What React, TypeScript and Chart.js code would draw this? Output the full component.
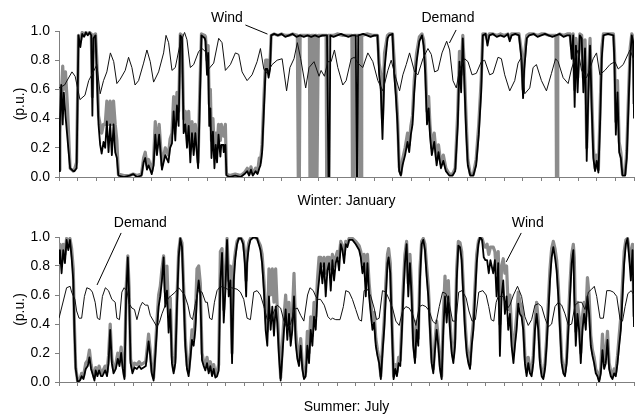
import React, { useEffect, useRef } from "react";
import { Chart, registerables } from "chart.js";

Chart.register(...registerables);

type Pair = [number, number];

const FONT_FAMILY = '"Liberation Sans", Arial, Helvetica, sans-serif';
const AXIS_COLOR = "#7f7f7f";
const GRAY = "#8c8c8c";

const dayCount = 31;
const yAxisLabel = "(p.u.)";
const winterTitle = "Winter: January";
const summerTitle = "Summer: July";

// ---------- Winter: January ----------
const janDemand: Pair[] = [
  [0, 0.61], [0.3, 0.63], [0.7, 0.72], [0.87, 0.69], [1.13, 0.53], [1.4, 0.56], [1.6, 0.66], [1.85, 0.72],
  [2.04, 0.77], [2.22, 0.57], [2.4, 0.66], [2.58, 0.72], [2.77, 0.85], [2.95, 0.79], [3.12, 0.64], [3.3, 0.67],
  [3.57, 0.73], [3.75, 0.82], [3.93, 0.75], [4.1, 0.63], [4.29, 0.66], [4.56, 0.78], [4.74, 0.87], [4.92, 0.79],
  [5.1, 0.65], [5.37, 0.72], [5.64, 0.85], [5.77, 0.97], [5.91, 0.92], [6.09, 0.73], [6.27, 0.75], [6.54, 0.92],
  [6.77, 0.99], [6.9, 0.94], [7.08, 0.75], [7.26, 0.77], [7.53, 0.86], [7.71, 0.88], [7.89, 0.86], [8.07, 0.74],
  [8.34, 0.78], [8.61, 0.95], [8.79, 0.92], [8.97, 0.73], [9.24, 0.77], [9.51, 0.85], [9.69, 0.84], [9.87, 0.72],
  [10.14, 0.66], [10.41, 0.7], [10.68, 0.79], [10.86, 0.88], [11.04, 0.74], [11.22, 0.71], [11.49, 0.77], [11.76, 0.8],
  [12.03, 0.81], [12.27, 0.59], [12.45, 0.75], [12.67, 0.81], [12.85, 0.92], [13.03, 0.81], [13.3, 0.61], [13.48, 0.75],
  [13.75, 0.79], [14.02, 0.69], [14.13, 0.73], [14.31, 0.69], [14.49, 0.79], [14.67, 0.79], [14.85, 0.87], [15.03, 0.75],
  [15.3, 0.63], [15.48, 0.66], [15.75, 0.81], [15.93, 0.82], [16.11, 0.78], [16.38, 0.75], [16.65, 0.85], [16.92, 0.79],
  [17.19, 0.66], [17.46, 0.59], [17.73, 0.73], [17.91, 0.8], [18.13, 0.69], [18.36, 0.59], [18.54, 0.7], [18.72, 0.77],
  [18.9, 0.85], [19.17, 0.72], [19.35, 0.7], [19.62, 0.81], [19.89, 0.88], [20.07, 0.84], [20.25, 0.72], [20.43, 0.73],
  [20.65, 0.85], [20.9, 0.93], [21.06, 0.87], [21.24, 0.66], [21.42, 0.61], [21.6, 0.74], [21.87, 0.81], [22.05, 0.79],
  [22.27, 0.7], [22.5, 0.71], [22.77, 0.79], [22.95, 0.8], [23.22, 0.7], [23.4, 0.71], [23.67, 0.82], [23.85, 0.81],
  [24.03, 0.7], [24.3, 0.59], [24.57, 0.66], [24.75, 0.78], [24.93, 0.82], [25.11, 0.57], [25.38, 0.61], [25.56, 0.75],
  [25.74, 0.77], [26.01, 0.66], [26.28, 0.59], [26.55, 0.71], [26.77, 0.81], [26.91, 0.79], [27.18, 0.68], [27.45, 0.64],
  [27.63, 0.74], [27.81, 0.81], [27.99, 0.87], [28.17, 0.73], [28.44, 0.68], [28.62, 0.74], [28.8, 0.81], [28.98, 0.85],
  [29.16, 0.7], [29.43, 0.73], [29.7, 0.77], [29.97, 0.79], [30.15, 0.74], [30.42, 0.77], [30.78, 0.87], [31, 0.8],
];

const janWindBlack: Pair[] = [
  [0, 0.04], [0.05, 0.38], [0.12, 0.63], [0.2, 0.36], [0.26, 0.58], [0.35, 0.42], [0.5, 0.2], [0.6, 0.06],
  [0.77, 0.04], [0.83, 0.04], [0.95, 0.06], [1.05, 0.97], [1.15, 0.89], [1.25, 0.98], [1.35, 0.96], [1.45, 0.99],
  [1.55, 0.97], [1.65, 0.99], [1.74, 0.97], [1.8, 0.42], [1.86, 0.95], [1.97, 0.97], [2.04, 0.7], [2.13, 0.36],
  [2.22, 0.22], [2.3, 0.16], [2.4, 0.24], [2.49, 0.2], [2.58, 0.38], [2.67, 0.17], [2.76, 0.36], [2.85, 0.15],
  [2.94, 0.36], [3.03, 0.17], [3.12, 0.13], [3.2, 0.01], [3.5, 0.0], [3.8, 0.01], [4.0, 0.02], [4.2, 0.0],
  [4.45, 0.01], [4.56, 0.1], [4.65, 0.13], [4.74, 0.05], [4.83, 0.08], [5.0, 0.02], [5.1, 0.08], [5.19, 0.29],
  [5.28, 0.15], [5.4, 0.29], [5.55, 0.05], [5.64, 0.1], [5.73, 0.15], [5.9, 0.1], [5.99, 0.2], [6.09, 0.23],
  [6.18, 0.45], [6.27, 0.25], [6.36, 0.49], [6.45, 0.35], [6.54, 0.97], [6.63, 0.95], [6.72, 0.3], [6.81, 0.36],
  [6.9, 0.2], [6.99, 0.35], [7.08, 0.1], [7.17, 0.3], [7.26, 0.15], [7.35, 0.3], [7.5, 0.06], [7.57, 0.4],
  [7.68, 0.97], [7.86, 0.95], [7.9, 0.93], [7.98, 0.7], [8.04, 0.85], [8.1, 0.35], [8.16, 0.47], [8.22, 0.13],
  [8.3, 0.31], [8.38, 0.06], [8.45, 0.22], [8.52, 0.1], [8.6, 0.29], [8.7, 0.14], [8.75, 0.22], [8.85, 0.22],
  [8.88, 0.17], [8.97, 0.22], [9.03, 0.01], [9.2, 0.0], [9.5, 0.01], [9.8, 0.0], [10.0, 0.02], [10.15, 0.04],
  [10.25, 0.01], [10.35, 0.05], [10.45, 0.01], [10.6, 0.04], [10.7, 0.02], [10.8, 0.06], [10.86, 0.08], [10.95, 0.17],
  [11.05, 0.47], [11.14, 0.74], [11.23, 0.74], [11.3, 0.68], [11.38, 0.74], [11.44, 0.97], [11.6, 0.98], [11.8, 0.97],
  [12.0, 0.98], [12.2, 0.96], [12.4, 0.97], [12.6, 0.98], [12.8, 0.96], [13.0, 0.97], [13.2, 0.96], [13.4, 0.97],
  [13.6, 0.96], [13.8, 0.97], [14.0, 0.96], [14.2, 0.97], [14.45, 0.97], [14.53, 0.0], [14.58, 0.0], [14.63, 0.97],
  [14.8, 0.96], [15.0, 0.97], [15.2, 0.98], [15.4, 0.97], [15.6, 0.96], [15.8, 0.97], [16.0, 0.97], [16.05, 0.0],
  [16.09, 0.0], [16.13, 0.97], [16.4, 0.98], [16.6, 0.97], [16.8, 0.96], [17.0, 0.97], [17.17, 0.97], [17.26, 0.7],
  [17.35, 0.6], [17.44, 0.26], [17.55, 0.74], [17.71, 0.95], [17.8, 0.97], [17.98, 0.98], [18.07, 0.7], [18.16, 0.56],
  [18.25, 0.36], [18.34, 0.04], [18.43, 0.01], [18.52, 0.08], [18.66, 0.15], [18.79, 0.24], [18.88, 0.17], [18.97, 0.29],
  [19.06, 0.36], [19.15, 0.58], [19.28, 0.79], [19.43, 0.93], [19.57, 0.97], [19.66, 0.9], [19.75, 0.7], [19.84, 0.36],
  [19.93, 0.47], [20.0, 0.29], [20.1, 0.15], [20.23, 0.24], [20.36, 0.08], [20.46, 0.17], [20.59, 0.06], [20.72, 0.11],
  [20.86, 0.04], [21.04, 0.01], [21.22, 0.01], [21.36, 0.04], [21.5, 0.36], [21.59, 0.79], [21.68, 0.58], [21.77, 0.95],
  [21.86, 0.63], [21.95, 0.31], [22.04, 0.08], [22.17, 0.01], [22.34, 0.01], [22.49, 0.08], [22.63, 0.29], [22.76, 0.58],
  [22.85, 0.97], [23.0, 0.98], [23.1, 0.9], [23.2, 0.97], [23.4, 0.98], [23.6, 0.96], [23.8, 0.97], [24.0, 0.96],
  [24.2, 0.98], [24.3, 0.93], [24.4, 0.97], [24.6, 0.98], [24.8, 0.97], [24.93, 0.81], [25.02, 0.54], [25.08, 0.74],
  [25.15, 0.84], [25.22, 0.95], [25.35, 0.97], [25.6, 0.98], [25.8, 0.96], [26.0, 0.97], [26.2, 0.98], [26.4, 0.97],
  [26.6, 0.96], [26.8, 0.97], [27.0, 0.98], [27.2, 0.96], [27.4, 0.97], [27.55, 0.97], [27.64, 0.81], [27.72, 0.97],
  [27.8, 0.48], [27.87, 0.9], [27.96, 0.58], [28.08, 0.97], [28.18, 0.95], [28.27, 0.58], [28.36, 0.88], [28.45, 0.11],
  [28.54, 0.58], [28.63, 0.9], [28.72, 0.47], [28.81, 0.13], [28.9, 0.04], [28.99, 0.11], [29.08, 0.03], [29.17, 0.36],
  [29.26, 0.81], [29.35, 0.97], [29.6, 0.98], [29.89, 0.97], [29.95, 0.77], [30.02, 0.29], [30.11, 0.58], [30.2, 0.17],
  [30.29, 0.13], [30.38, 0.01], [30.52, 0.01], [30.61, 0.13], [30.7, 0.47], [30.79, 0.81], [30.88, 0.97], [30.95, 0.93],
  [31, 0.4],
];

const janWindGray: Pair[] = [
  [0, 0.05], [0.05, 0.3], [0.12, 0.55], [0.2, 0.76], [0.26, 0.6], [0.35, 0.72], [0.45, 0.5], [0.55, 0.2],
  [0.6, 0.06], [0.77, 0.04], [0.83, 0.05], [0.95, 0.1], [1.05, 0.97], [1.15, 0.93], [1.25, 0.99], [1.35, 0.97],
  [1.45, 0.99], [1.55, 0.98], [1.65, 0.99], [1.74, 0.98], [1.8, 0.55], [1.86, 0.97], [1.97, 0.98], [2.04, 0.8],
  [2.13, 0.42], [2.22, 0.36], [2.3, 0.3], [2.4, 0.36], [2.49, 0.36], [2.58, 0.52], [2.67, 0.36], [2.76, 0.52],
  [2.85, 0.36], [2.94, 0.52], [3.03, 0.36], [3.12, 0.25], [3.2, 0.02], [3.5, 0.01], [3.8, 0.01], [4.0, 0.02],
  [4.2, 0.01], [4.45, 0.02], [4.56, 0.13], [4.65, 0.17], [4.74, 0.08], [4.83, 0.12], [5.0, 0.04], [5.1, 0.12],
  [5.19, 0.38], [5.28, 0.2], [5.4, 0.36], [5.55, 0.08], [5.64, 0.14], [5.73, 0.2], [5.9, 0.15], [5.99, 0.26],
  [6.09, 0.3], [6.18, 0.55], [6.27, 0.35], [6.36, 0.58], [6.45, 0.45], [6.54, 0.98], [6.63, 0.97], [6.72, 0.4],
  [6.81, 0.45], [6.9, 0.3], [6.99, 0.45], [7.08, 0.2], [7.17, 0.38], [7.26, 0.25], [7.35, 0.36], [7.5, 0.1],
  [7.57, 0.5], [7.68, 0.98], [7.86, 0.97], [7.9, 0.96], [7.98, 0.8], [8.04, 0.9], [8.1, 0.5], [8.16, 0.6],
  [8.22, 0.25], [8.3, 0.4], [8.38, 0.15], [8.45, 0.3], [8.52, 0.2], [8.6, 0.36], [8.7, 0.25], [8.75, 0.36],
  [8.85, 0.3], [8.88, 0.28], [8.97, 0.36], [9.03, 0.02], [9.2, 0.01], [9.5, 0.02], [9.8, 0.01], [10.0, 0.03],
  [10.15, 0.06], [10.25, 0.02], [10.35, 0.07], [10.45, 0.02], [10.6, 0.06], [10.7, 0.03], [10.8, 0.13], [10.86, 0.1],
  [10.95, 0.22], [11.05, 0.55], [11.14, 0.8], [11.23, 0.8], [11.3, 0.72], [11.38, 0.8], [11.44, 0.97], [11.6, 0.98],
  [11.8, 0.97], [12.0, 0.98], [12.2, 0.97], [12.4, 0.97], [12.6, 0.98], [12.85, 0.97], [12.9, 0.0], [12.96, 0.0],
  [13.0, 0.97], [13.2, 0.97], [13.5, 0.97], [13.53, 0.0], [13.58, 0.0], [13.61, 0.97], [13.7, 0.97], [13.73, 0.0],
  [13.77, 0.0], [13.8, 0.97], [13.88, 0.97], [13.91, 0.0], [13.95, 0.0], [13.98, 0.97], [14.2, 0.97], [14.4, 0.97],
  [14.43, 0.0], [14.48, 0.0], [14.51, 0.97], [14.8, 0.97], [15.0, 0.98], [15.3, 0.97], [15.6, 0.97], [15.79, 0.97],
  [15.82, 0.0], [15.87, 0.0], [15.9, 0.97], [16.1, 0.97], [16.22, 0.97], [16.25, 0.0], [16.29, 0.0], [16.32, 0.97],
  [16.6, 0.98], [16.9, 0.97], [17.17, 0.97], [17.26, 0.78], [17.35, 0.7], [17.44, 0.4], [17.55, 0.85], [17.71, 0.97],
  [17.8, 0.98], [17.98, 0.98], [18.07, 0.8], [18.16, 0.62], [18.25, 0.42], [18.34, 0.07], [18.43, 0.02], [18.52, 0.12],
  [18.66, 0.2], [18.79, 0.3], [18.88, 0.22], [18.97, 0.35], [19.06, 0.42], [19.15, 0.66], [19.28, 0.85], [19.43, 0.96],
  [19.57, 0.98], [19.66, 0.94], [19.75, 0.78], [19.84, 0.45], [19.93, 0.55], [20.0, 0.36], [20.1, 0.2], [20.23, 0.3],
  [20.36, 0.12], [20.46, 0.22], [20.59, 0.09], [20.72, 0.15], [20.86, 0.06], [21.04, 0.02], [21.22, 0.02], [21.36, 0.06],
  [21.5, 0.45], [21.59, 0.86], [21.68, 0.7], [21.77, 0.97], [21.86, 0.72], [21.95, 0.4], [22.04, 0.12], [22.17, 0.02],
  [22.34, 0.02], [22.49, 0.12], [22.63, 0.36], [22.76, 0.66], [22.85, 0.98], [23.0, 0.98], [23.1, 0.94], [23.2, 0.98],
  [23.4, 0.98], [23.6, 0.97], [23.8, 0.98], [24.0, 0.97], [24.2, 0.98], [24.3, 0.95], [24.4, 0.98], [24.6, 0.98],
  [24.8, 0.98], [24.93, 0.86], [25.02, 0.6], [25.08, 0.8], [25.15, 0.9], [25.22, 0.97], [25.35, 0.98], [25.6, 0.98],
  [25.8, 0.97], [26.0, 0.98], [26.2, 0.98], [26.4, 0.97], [26.6, 0.97], [26.79, 0.97], [26.82, 0.0], [26.86, 0.0],
  [26.89, 0.97], [27.0, 0.98], [27.2, 0.97], [27.4, 0.98], [27.55, 0.98], [27.64, 0.88], [27.72, 0.98], [27.8, 0.6],
  [27.87, 0.95], [27.96, 0.68], [28.08, 0.98], [28.18, 0.97], [28.27, 0.68], [28.36, 0.94], [28.45, 0.2], [28.54, 0.68],
  [28.63, 0.95], [28.72, 0.55], [28.81, 0.2], [28.9, 0.06], [28.99, 0.15], [29.08, 0.05], [29.17, 0.45], [29.26, 0.88],
  [29.35, 0.98], [29.6, 0.98], [29.89, 0.98], [29.95, 0.85], [30.02, 0.38], [30.11, 0.66], [30.2, 0.24], [30.29, 0.17],
  [30.38, 0.02], [30.52, 0.02], [30.61, 0.18], [30.7, 0.55], [30.79, 0.88], [30.88, 0.98], [30.95, 0.96], [31, 0.5],
];

// ---------- Summer: July ----------
const julDemand: Pair[] = [
  [0, 0.44], [0.41, 0.65], [0.6, 0.66], [0.68, 0.62], [0.86, 0.57], [0.95, 0.49], [1.08, 0.44], [1.22, 0.44],
  [1.37, 0.59], [1.5, 0.65], [1.68, 0.64], [1.8, 0.62], [1.95, 0.55], [2.07, 0.44], [2.2, 0.43], [2.34, 0.59],
  [2.5, 0.65], [2.67, 0.63], [2.85, 0.57], [3.03, 0.55], [3.12, 0.44], [3.26, 0.43], [3.39, 0.62], [3.51, 0.65],
  [3.66, 0.63], [3.78, 0.54], [3.93, 0.51], [4.07, 0.5], [4.2, 0.43], [4.38, 0.52], [4.5, 0.55], [4.65, 0.53],
  [4.79, 0.53], [4.92, 0.46], [5.1, 0.42], [5.28, 0.38], [5.41, 0.41], [5.55, 0.47], [5.73, 0.53], [5.9, 0.58],
  [6.09, 0.6], [6.27, 0.62], [6.45, 0.65], [6.59, 0.63], [6.77, 0.6], [6.95, 0.53], [7.08, 0.45], [7.2, 0.43],
  [7.35, 0.54], [7.5, 0.63], [7.71, 0.62], [7.9, 0.55], [8.0, 0.55], [8.12, 0.44], [8.25, 0.43], [8.38, 0.55],
  [8.52, 0.63], [8.7, 0.66], [8.9, 0.65], [9.1, 0.64], [9.3, 0.65], [9.6, 0.64], [9.78, 0.62], [9.96, 0.57],
  [10.14, 0.44], [10.32, 0.43], [10.5, 0.62], [10.68, 0.63], [10.86, 0.6], [11.05, 0.52], [11.23, 0.43], [11.4, 0.42],
  [11.6, 0.49], [11.76, 0.53], [11.95, 0.51], [12.13, 0.42], [12.3, 0.37], [12.49, 0.4], [12.67, 0.5], [12.85, 0.51],
  [13.03, 0.46], [13.2, 0.42], [13.4, 0.6], [13.53, 0.65], [13.71, 0.63], [13.84, 0.59], [13.97, 0.57], [14.1, 0.57],
  [14.3, 0.53], [14.5, 0.45], [14.65, 0.43], [14.74, 0.44], [14.92, 0.43], [15.15, 0.43], [15.33, 0.52], [15.46, 0.63],
  [15.64, 0.62], [15.82, 0.57], [16.0, 0.5], [16.18, 0.43], [16.31, 0.42], [16.45, 0.63], [16.63, 0.64], [16.81, 0.59],
  [16.99, 0.51], [17.12, 0.43], [17.26, 0.44], [17.44, 0.63], [17.62, 0.62], [17.8, 0.57], [17.98, 0.51], [18.16, 0.42],
  [18.34, 0.39], [18.52, 0.49], [18.7, 0.52], [18.88, 0.51], [19.06, 0.47], [19.24, 0.39], [19.42, 0.52], [19.6, 0.53],
  [19.78, 0.52], [19.96, 0.49], [20.14, 0.42], [20.32, 0.4], [20.5, 0.52], [20.68, 0.62], [20.86, 0.61], [21.04, 0.54],
  [21.22, 0.42], [21.4, 0.42], [21.55, 0.62], [21.73, 0.63], [21.95, 0.58], [22.1, 0.49], [22.27, 0.42], [22.45, 0.43],
  [22.63, 0.62], [22.85, 0.63], [23.03, 0.6], [23.17, 0.52], [23.3, 0.43], [23.44, 0.42], [23.57, 0.55], [23.68, 0.59],
  [23.95, 0.59], [24.13, 0.5], [24.31, 0.53], [24.5, 0.6], [24.72, 0.66], [24.94, 0.59], [25.12, 0.45], [25.3, 0.39],
  [25.48, 0.43], [25.66, 0.53], [25.84, 0.54], [26.02, 0.52], [26.2, 0.44], [26.38, 0.38], [26.56, 0.4], [26.74, 0.52],
  [26.92, 0.55], [27.1, 0.53], [27.28, 0.47], [27.46, 0.39], [27.64, 0.4], [27.82, 0.53], [28.0, 0.55], [28.18, 0.55],
  [28.36, 0.5], [28.54, 0.62], [28.72, 0.64], [28.86, 0.66], [28.99, 0.59], [29.17, 0.44], [29.35, 0.44], [29.53, 0.63],
  [29.71, 0.63], [29.89, 0.62], [30.07, 0.59], [30.25, 0.43], [30.38, 0.42], [30.52, 0.52], [30.67, 0.61], [30.85, 0.63],
  [31, 0.6],
];

const julWindBlack: Pair[] = [
  [0, 0.82], [0.05, 0.91], [0.14, 0.75], [0.23, 0.91], [0.32, 0.82], [0.41, 0.98], [0.5, 0.91], [0.59, 0.98],
  [0.68, 0.86], [0.77, 0.7], [0.83, 0.36], [0.9, 0.09], [1.0, 0.0], [1.13, 0.01], [1.22, 0.04], [1.32, 0.02],
  [1.44, 0.09], [1.55, 0.11], [1.64, 0.17], [1.73, 0.09], [1.8, 0.06], [1.91, 0.01], [1.98, 0.08], [2.07, 0.04],
  [2.16, 0.08], [2.27, 0.04], [2.34, 0.04], [2.49, 0.08], [2.59, 0.04], [2.67, 0.13], [2.76, 0.36], [2.85, 0.13],
  [2.94, 0.06], [3.06, 0.09], [3.17, 0.16], [3.26, 0.11], [3.35, 0.2], [3.44, 0.09], [3.53, 0.02], [3.62, 0.59],
  [3.71, 0.86], [3.78, 0.59], [3.86, 0.13], [3.96, 0.06], [4.07, 0.1], [4.2, 0.09], [4.32, 0.11], [4.43, 0.09],
  [4.56, 0.1], [4.68, 0.11], [4.83, 0.28], [4.92, 0.18], [5.0, 0.06], [5.1, 0.01], [5.19, 0.18], [5.28, 0.36],
  [5.37, 0.52], [5.46, 0.59], [5.55, 0.7], [5.64, 0.86], [5.73, 0.52], [5.82, 0.63], [5.91, 0.34], [6.0, 0.5],
  [6.09, 0.13], [6.18, 0.06], [6.27, 0.13], [6.36, 0.52], [6.45, 0.86], [6.54, 0.99], [6.63, 0.93], [6.72, 0.59],
  [6.81, 0.25], [6.9, 0.09], [6.99, 0.04], [7.08, 0.16], [7.17, 0.29], [7.26, 0.25], [7.35, 0.36], [7.44, 0.59],
  [7.53, 0.7], [7.62, 0.6], [7.71, 0.15], [7.8, 0.11], [7.89, 0.08], [7.98, 0.13], [8.07, 0.06], [8.16, 0.11],
  [8.25, 0.04], [8.34, 0.09], [8.43, 0.03], [8.52, 0.04], [8.61, 0.08], [8.7, 0.7], [8.79, 0.89], [8.88, 0.41],
  [8.97, 0.63], [9.06, 0.98], [9.15, 0.59], [9.24, 0.7], [9.33, 0.13], [9.42, 0.7], [9.51, 0.86], [9.6, 0.95],
  [9.69, 0.99], [9.82, 0.99], [9.93, 0.95], [10.02, 0.82], [10.09, 0.59], [10.14, 0.82], [10.23, 0.93], [10.32, 0.98],
  [10.5, 1.0], [10.68, 0.99], [10.86, 0.91], [10.95, 0.82], [11.05, 0.63], [11.14, 0.36], [11.23, 0.25], [11.32, 0.59],
  [11.41, 0.36], [11.5, 0.52], [11.59, 0.32], [11.68, 0.52], [11.77, 0.41], [11.86, 0.18], [11.95, 0.01], [12.04, 0.18],
  [12.13, 0.36], [12.22, 0.5], [12.31, 0.29], [12.4, 0.47], [12.49, 0.25], [12.58, 0.36], [12.67, 0.59], [12.76, 0.27],
  [12.85, 0.16], [12.94, 0.11], [13.03, 0.25], [13.12, 0.09], [13.21, 0.02], [13.3, 0.04], [13.39, 0.25], [13.48, 0.13],
  [13.57, 0.36], [13.66, 0.25], [13.75, 0.45], [13.84, 0.36], [13.93, 0.59], [14.02, 0.7], [14.11, 0.82], [14.2, 0.68],
  [14.29, 0.82], [14.38, 0.59], [14.47, 0.77], [14.56, 0.82], [14.65, 0.63], [14.74, 0.84], [14.83, 0.7], [14.92, 0.82],
  [15.01, 0.86], [15.1, 0.77], [15.19, 0.95], [15.28, 0.91], [15.37, 0.82], [15.46, 0.95], [15.55, 0.93], [15.64, 0.98],
  [15.82, 0.98], [16.0, 0.95], [16.18, 0.91], [16.27, 0.86], [16.36, 0.75], [16.45, 0.82], [16.54, 0.59], [16.63, 0.82],
  [16.72, 0.59], [16.81, 0.47], [16.9, 0.36], [16.99, 0.41], [17.08, 0.25], [17.17, 0.18], [17.26, 0.13], [17.35, 0.02],
  [17.44, 0.2], [17.53, 0.36], [17.62, 0.59], [17.71, 0.82], [17.77, 0.86], [17.86, 0.75], [17.95, 0.36], [18.04, 0.02],
  [18.13, 0.09], [18.22, 0.04], [18.31, 0.13], [18.4, 0.11], [18.49, 0.36], [18.56, 0.59], [18.65, 0.82], [18.74, 0.95],
  [18.83, 0.59], [18.92, 0.82], [19.01, 0.59], [19.1, 0.25], [19.19, 0.13], [19.28, 0.36], [19.37, 0.25], [19.46, 0.7],
  [19.55, 0.95], [19.64, 0.98], [19.73, 0.91], [19.82, 0.73], [19.91, 0.59], [20.0, 0.36], [20.09, 0.13], [20.18, 0.06],
  [20.27, 0.22], [20.36, 0.36], [20.45, 0.25], [20.54, 0.09], [20.63, 0.02], [20.72, 0.36], [20.81, 0.59], [20.9, 0.41],
  [20.99, 0.59], [21.08, 0.36], [21.17, 0.2], [21.26, 0.13], [21.35, 0.25], [21.44, 0.7], [21.53, 0.94], [21.62, 0.93],
  [21.71, 0.84], [21.8, 0.59], [21.89, 0.36], [21.98, 0.2], [22.07, 0.13], [22.16, 0.09], [22.25, 0.25], [22.34, 0.36],
  [22.43, 0.59], [22.52, 0.82], [22.61, 0.95], [22.7, 1.0], [22.81, 0.98], [22.9, 0.86], [22.99, 0.84], [23.08, 0.84],
  [23.17, 0.75], [23.26, 0.84], [23.41, 0.75], [23.5, 0.84], [23.59, 0.59], [23.68, 0.82], [23.77, 0.18], [23.86, 0.59],
  [23.95, 0.7], [24.04, 0.47], [24.13, 0.59], [24.22, 0.36], [24.31, 0.47], [24.4, 0.25], [24.5, 0.13], [24.58, 0.25],
  [24.67, 0.36], [24.76, 0.54], [24.85, 0.47], [24.94, 0.45], [25.03, 0.36], [25.12, 0.13], [25.21, 0.04], [25.3, 0.13],
  [25.39, 0.06], [25.48, 0.04], [25.57, 0.13], [25.66, 0.36], [25.75, 0.47], [25.84, 0.36], [25.93, 0.13], [26.02, 0.04],
  [26.11, 0.02], [26.2, 0.09], [26.29, 0.25], [26.38, 0.47], [26.47, 0.7], [26.56, 0.86], [26.65, 0.93], [26.74, 0.86],
  [26.83, 0.77], [26.92, 0.59], [27.01, 0.36], [27.1, 0.13], [27.19, 0.06], [27.28, 0.04], [27.37, 0.13], [27.46, 0.36],
  [27.55, 0.59], [27.64, 0.82], [27.73, 0.91], [27.78, 0.59], [27.86, 0.25], [27.95, 0.47], [28.04, 0.36], [28.13, 0.13],
  [28.22, 0.36], [28.31, 0.47], [28.4, 0.36], [28.49, 0.59], [28.58, 0.47], [28.67, 0.25], [28.76, 0.18], [28.85, 0.13],
  [28.94, 0.06], [29.03, 0.04], [29.12, 0.0], [29.21, 0.06], [29.3, 0.22], [29.39, 0.09], [29.48, 0.13], [29.57, 0.29],
  [29.66, 0.09], [29.75, 0.04], [29.84, 0.02], [29.93, 0.06], [30.02, 0.04], [30.11, 0.13], [30.2, 0.25], [30.29, 0.36],
  [30.38, 0.59], [30.47, 0.82], [30.56, 0.95], [30.65, 0.99], [30.74, 0.86], [30.83, 0.7], [30.92, 0.91], [31, 0.38],
];

const julWindGray: Pair[] = [
  [0, 0.86], [0.05, 0.95], [0.14, 0.82], [0.23, 0.95], [0.32, 0.88], [0.41, 0.99], [0.5, 0.95], [0.59, 0.99],
  [0.68, 0.92], [0.77, 0.78], [0.83, 0.4], [0.9, 0.1], [1.0, 0.01], [1.13, 0.02], [1.22, 0.06], [1.32, 0.04],
  [1.44, 0.13], [1.55, 0.15], [1.64, 0.22], [1.73, 0.12], [1.8, 0.08], [1.91, 0.03], [1.98, 0.1], [2.07, 0.06],
  [2.16, 0.11], [2.27, 0.06], [2.34, 0.07], [2.49, 0.11], [2.59, 0.07], [2.67, 0.18], [2.76, 0.4], [2.85, 0.16],
  [2.94, 0.09], [3.06, 0.12], [3.17, 0.2], [3.26, 0.14], [3.35, 0.24], [3.44, 0.12], [3.53, 0.04], [3.62, 0.65],
  [3.71, 0.87], [3.78, 0.65], [3.86, 0.16], [3.96, 0.09], [4.07, 0.13], [4.2, 0.12], [4.32, 0.14], [4.43, 0.12],
  [4.56, 0.13], [4.68, 0.14], [4.83, 0.33], [4.92, 0.22], [5.0, 0.08], [5.1, 0.03], [5.19, 0.22], [5.28, 0.42],
  [5.37, 0.6], [5.46, 0.66], [5.55, 0.78], [5.64, 0.87], [5.73, 0.62], [5.82, 0.8], [5.91, 0.45], [6.0, 0.58],
  [6.09, 0.18], [6.18, 0.08], [6.27, 0.17], [6.36, 0.58], [6.45, 0.9], [6.54, 0.99], [6.63, 0.96], [6.72, 0.66],
  [6.81, 0.3], [6.9, 0.12], [6.99, 0.07], [7.08, 0.2], [7.17, 0.36], [7.26, 0.3], [7.35, 0.45], [7.44, 0.78],
  [7.53, 0.8], [7.62, 0.68], [7.71, 0.2], [7.8, 0.14], [7.89, 0.11], [7.98, 0.17], [8.07, 0.09], [8.16, 0.14],
  [8.25, 0.07], [8.34, 0.12], [8.43, 0.05], [8.52, 0.07], [8.61, 0.12], [8.7, 0.9], [8.79, 0.92], [8.88, 0.5],
  [8.97, 0.75], [9.06, 0.99], [9.15, 0.7], [9.24, 0.8], [9.33, 0.2], [9.42, 0.8], [9.51, 0.9], [9.6, 0.97],
  [9.69, 0.99], [9.82, 0.99], [9.93, 0.97], [10.02, 0.88], [10.09, 0.7], [10.14, 0.88], [10.23, 0.96], [10.32, 0.99],
  [10.5, 1.0], [10.68, 0.99], [10.86, 0.94], [10.95, 0.88], [11.05, 0.7], [11.14, 0.45], [11.23, 0.35], [11.32, 0.78],
  [11.41, 0.6], [11.5, 0.78], [11.59, 0.55], [11.68, 0.78], [11.77, 0.5], [11.86, 0.25], [11.95, 0.03], [12.04, 0.25],
  [12.13, 0.45], [12.22, 0.6], [12.31, 0.38], [12.4, 0.55], [12.49, 0.32], [12.58, 0.45], [12.67, 0.75], [12.76, 0.35],
  [12.85, 0.22], [12.94, 0.15], [13.03, 0.3], [13.12, 0.12], [13.21, 0.04], [13.3, 0.07], [13.39, 0.35], [13.48, 0.2],
  [13.57, 0.45], [13.66, 0.32], [13.75, 0.55], [13.84, 0.45], [13.93, 0.7], [14.02, 0.86], [14.11, 0.86], [14.2, 0.8],
  [14.29, 0.86], [14.38, 0.75], [14.47, 0.86], [14.56, 0.86], [14.65, 0.78], [14.74, 0.88], [14.83, 0.8], [14.92, 0.86],
  [15.01, 0.9], [15.1, 0.86], [15.19, 0.97], [15.28, 0.94], [15.37, 0.88], [15.46, 0.97], [15.55, 0.95], [15.64, 0.99],
  [15.82, 0.99], [16.0, 0.97], [16.18, 0.94], [16.27, 0.9], [16.36, 0.82], [16.45, 0.88], [16.54, 0.7], [16.63, 0.88],
  [16.72, 0.68], [16.81, 0.55], [16.9, 0.42], [16.99, 0.48], [17.08, 0.3], [17.17, 0.22], [17.26, 0.16], [17.35, 0.04],
  [17.44, 0.25], [17.53, 0.42], [17.62, 0.68], [17.71, 0.88], [17.77, 0.92], [17.86, 0.82], [17.95, 0.42], [18.04, 0.04],
  [18.13, 0.12], [18.22, 0.07], [18.31, 0.17], [18.4, 0.15], [18.49, 0.42], [18.56, 0.66], [18.65, 0.88], [18.74, 0.97],
  [18.83, 0.68], [18.92, 0.88], [19.01, 0.66], [19.1, 0.3], [19.19, 0.17], [19.28, 0.42], [19.37, 0.3], [19.46, 0.78],
  [19.55, 0.97], [19.64, 0.99], [19.73, 0.95], [19.82, 0.8], [19.91, 0.66], [20.0, 0.42], [20.09, 0.17], [20.18, 0.09],
  [20.27, 0.28], [20.36, 0.42], [20.45, 0.3], [20.54, 0.12], [20.63, 0.04], [20.72, 0.45], [20.81, 0.73], [20.9, 0.5],
  [20.99, 0.7], [21.08, 0.42], [21.17, 0.25], [21.26, 0.17], [21.35, 0.3], [21.44, 0.78], [21.53, 0.97], [21.62, 0.96],
  [21.71, 0.9], [21.8, 0.66], [21.89, 0.42], [21.98, 0.25], [22.07, 0.17], [22.16, 0.12], [22.25, 0.3], [22.34, 0.42],
  [22.43, 0.66], [22.52, 0.88], [22.61, 0.97], [22.7, 1.0], [22.81, 0.99], [22.9, 0.95], [22.99, 0.93], [23.08, 0.95],
  [23.17, 0.88], [23.26, 0.93], [23.41, 0.93], [23.5, 0.9], [23.59, 0.75], [23.68, 0.9], [23.77, 0.4], [23.86, 0.8],
  [23.95, 0.85], [24.04, 0.75], [24.13, 0.8], [24.22, 0.5], [24.31, 0.6], [24.4, 0.35], [24.5, 0.2], [24.58, 0.32],
  [24.67, 0.45], [24.76, 0.62], [24.85, 0.55], [24.94, 0.52], [25.03, 0.42], [25.12, 0.18], [25.21, 0.07], [25.3, 0.17],
  [25.39, 0.09], [25.48, 0.07], [25.57, 0.18], [25.66, 0.42], [25.75, 0.55], [25.84, 0.42], [25.93, 0.17], [26.02, 0.07],
  [26.11, 0.04], [26.2, 0.12], [26.29, 0.3], [26.38, 0.55], [26.47, 0.78], [26.56, 0.92], [26.65, 0.97], [26.74, 0.92],
  [26.83, 0.84], [26.92, 0.66], [27.01, 0.42], [27.1, 0.17], [27.19, 0.09], [27.28, 0.07], [27.37, 0.17], [27.46, 0.42],
  [27.55, 0.68], [27.64, 0.88], [27.73, 0.95], [27.78, 0.86], [27.86, 0.35], [27.95, 0.55], [28.04, 0.45], [28.13, 0.2],
  [28.22, 0.45], [28.31, 0.55], [28.4, 0.45], [28.49, 0.72], [28.58, 0.6], [28.67, 0.32], [28.76, 0.22], [28.85, 0.17],
  [28.94, 0.09], [29.03, 0.06], [29.12, 0.02], [29.21, 0.1], [29.3, 0.33], [29.39, 0.14], [29.48, 0.2], [29.57, 0.35],
  [29.66, 0.13], [29.75, 0.07], [29.84, 0.04], [29.93, 0.09], [30.02, 0.07], [30.11, 0.18], [30.2, 0.32], [30.29, 0.45],
  [30.38, 0.68], [30.47, 0.9], [30.56, 0.98], [30.65, 0.99], [30.74, 0.92], [30.83, 0.8], [30.92, 0.95], [31, 0.45],
];

// Leader-line annotations, in data units (day, p.u.)
type Note = { text: string; tx: number; ty: number; x1: number; y1: number; x2: number; y2: number };
const janNotes: Note[] = [
  { text: "Wind", tx: 9.05, ty: 1.089, x1: 10.05, y1: 1.041, x2: 11.24, y2: 0.979 },
  { text: "Demand", tx: 20.97, ty: 1.089, x1: 21.41, y1: 1.007, x2: 21.05, y2: 0.918 },
];
const julNotes: Note[] = [
  { text: "Demand", tx: 4.38, ty: 1.097, x1: 3.35, y1: 1.028, x2: 2.05, y2: 0.669 },
  { text: "Wind", tx: 25.27, ty: 1.097, x1: 24.92, y1: 1.028, x2: 24.11, y2: 0.828 },
];

const notesPlugin = {
  id: "notes",
  afterDraw(chart: any, _args: any, opts: any) {
    const items: Note[] = (opts && opts.items) || [];
    const { ctx } = chart;
    const xs = chart.scales.x;
    const ys = chart.scales.y;
    ctx.save();
    ctx.font = `14px ${FONT_FAMILY}`;
    ctx.fillStyle = "#000";
    ctx.strokeStyle = "#000";
    ctx.lineWidth = 1;
    ctx.textAlign = "center";
    ctx.textBaseline = "middle";
    for (const n of items) {
      ctx.fillText(n.text, xs.getPixelForValue(n.tx), ys.getPixelForValue(n.ty));
      ctx.beginPath();
      ctx.moveTo(xs.getPixelForValue(n.x1), ys.getPixelForValue(n.y1));
      ctx.lineTo(xs.getPixelForValue(n.x2), ys.getPixelForValue(n.y2));
      ctx.stroke();
    }
    ctx.restore();
  },
};

const toXY = (pairs: Pair[]) => pairs.map(([x, y]) => ({ x, y }));

type PanelProps = {
  demand: Pair[];
  black: Pair[];
  gray: Pair[];
  title: string;
  notes: Note[];
  height: number;
  padTop: number;
  axisHeight: number;
  titlePadBottom: number;
};

function Panel(props: PanelProps) {
  const ref = useRef<HTMLCanvasElement | null>(null);
  useEffect(() => {
    if (!ref.current) return;
    const font = { family: FONT_FAMILY, size: 14 };
    const chart = new Chart(ref.current, {
      type: "line",
      data: {
        datasets: [
          {
            label: "Demand",
            data: toXY(props.demand),
            borderColor: "#111",
            borderWidth: 1,
            pointRadius: 0,
            tension: 0,
            order: 0,
            borderJoinStyle: "round",
          },
          {
            label: "Wind",
            data: toXY(props.black),
            borderColor: "#000",
            borderWidth: 1.8,
            pointRadius: 0,
            tension: 0,
            order: 1,
            borderJoinStyle: "round",
          },
          {
            label: "Wind (grey)",
            data: toXY(props.gray),
            borderColor: GRAY,
            borderWidth: 3.2,
            pointRadius: 0,
            tension: 0,
            order: 2,
            borderJoinStyle: "round",
          },
        ],
      },
      options: {
        animation: false,
        responsive: false,
        events: [],
        layout: { padding: { top: props.padTop, right: 3, left: 0, bottom: 0 } },
        plugins: {
          legend: { display: false },
          tooltip: { enabled: false },
          notes: { items: props.notes },
        } as any,
        scales: {
          x: {
            type: "linear",
            min: 0,
            max: dayCount,
            ticks: { display: false, stepSize: 1 },
            grid: { display: true, drawOnChartArea: false, drawTicks: true, tickLength: 4, color: AXIS_COLOR },
            border: { display: true, color: AXIS_COLOR },
            title: {
              display: true,
              text: props.title,
              font,
              color: "#000",
              padding: { top: 0, bottom: props.titlePadBottom },
            },
            afterFit: (s: any) => {
              s.height = props.axisHeight;
            },
          },
          y: {
            min: 0,
            max: 1,
            ticks: {
              stepSize: 0.2,
              callback: (v: any) => Number(v).toFixed(1),
              font,
              color: "#000",
              padding: 5,
            },
            grid: { display: true, drawOnChartArea: false, drawTicks: true, tickLength: 4, color: AXIS_COLOR },
            border: { display: true, color: AXIS_COLOR },
            title: { display: true, text: yAxisLabel, font, color: "#000", padding: { top: 12, bottom: 0 } },
            afterFit: (s: any) => {
              s.width = 59;
            },
          },
        },
      } as any,
      plugins: [notesPlugin],
    });
    return () => chart.destroy();
  }, []);
  return <canvas ref={ref} width={637} height={props.height} style={{ display: "block" }} />;
}

export default function App() {
  return (
    <div style={{ position: "absolute", left: 0, top: 0, width: 637, height: 416, background: "#fff" }}>
      <Panel
        demand={janDemand}
        black={janWindBlack}
        gray={janWindGray}
        title={winterTitle}
        notes={janNotes}
        height={212}
        padTop={31}
        axisHeight={35}
        titlePadBottom={2}
      />
      <Panel
        demand={julDemand}
        black={julWindBlack}
        gray={julWindGray}
        title={summerTitle}
        notes={julNotes}
        height={204}
        padTop={25}
        axisHeight={34}
        titlePadBottom={0}
      />
    </div>
  );
}
